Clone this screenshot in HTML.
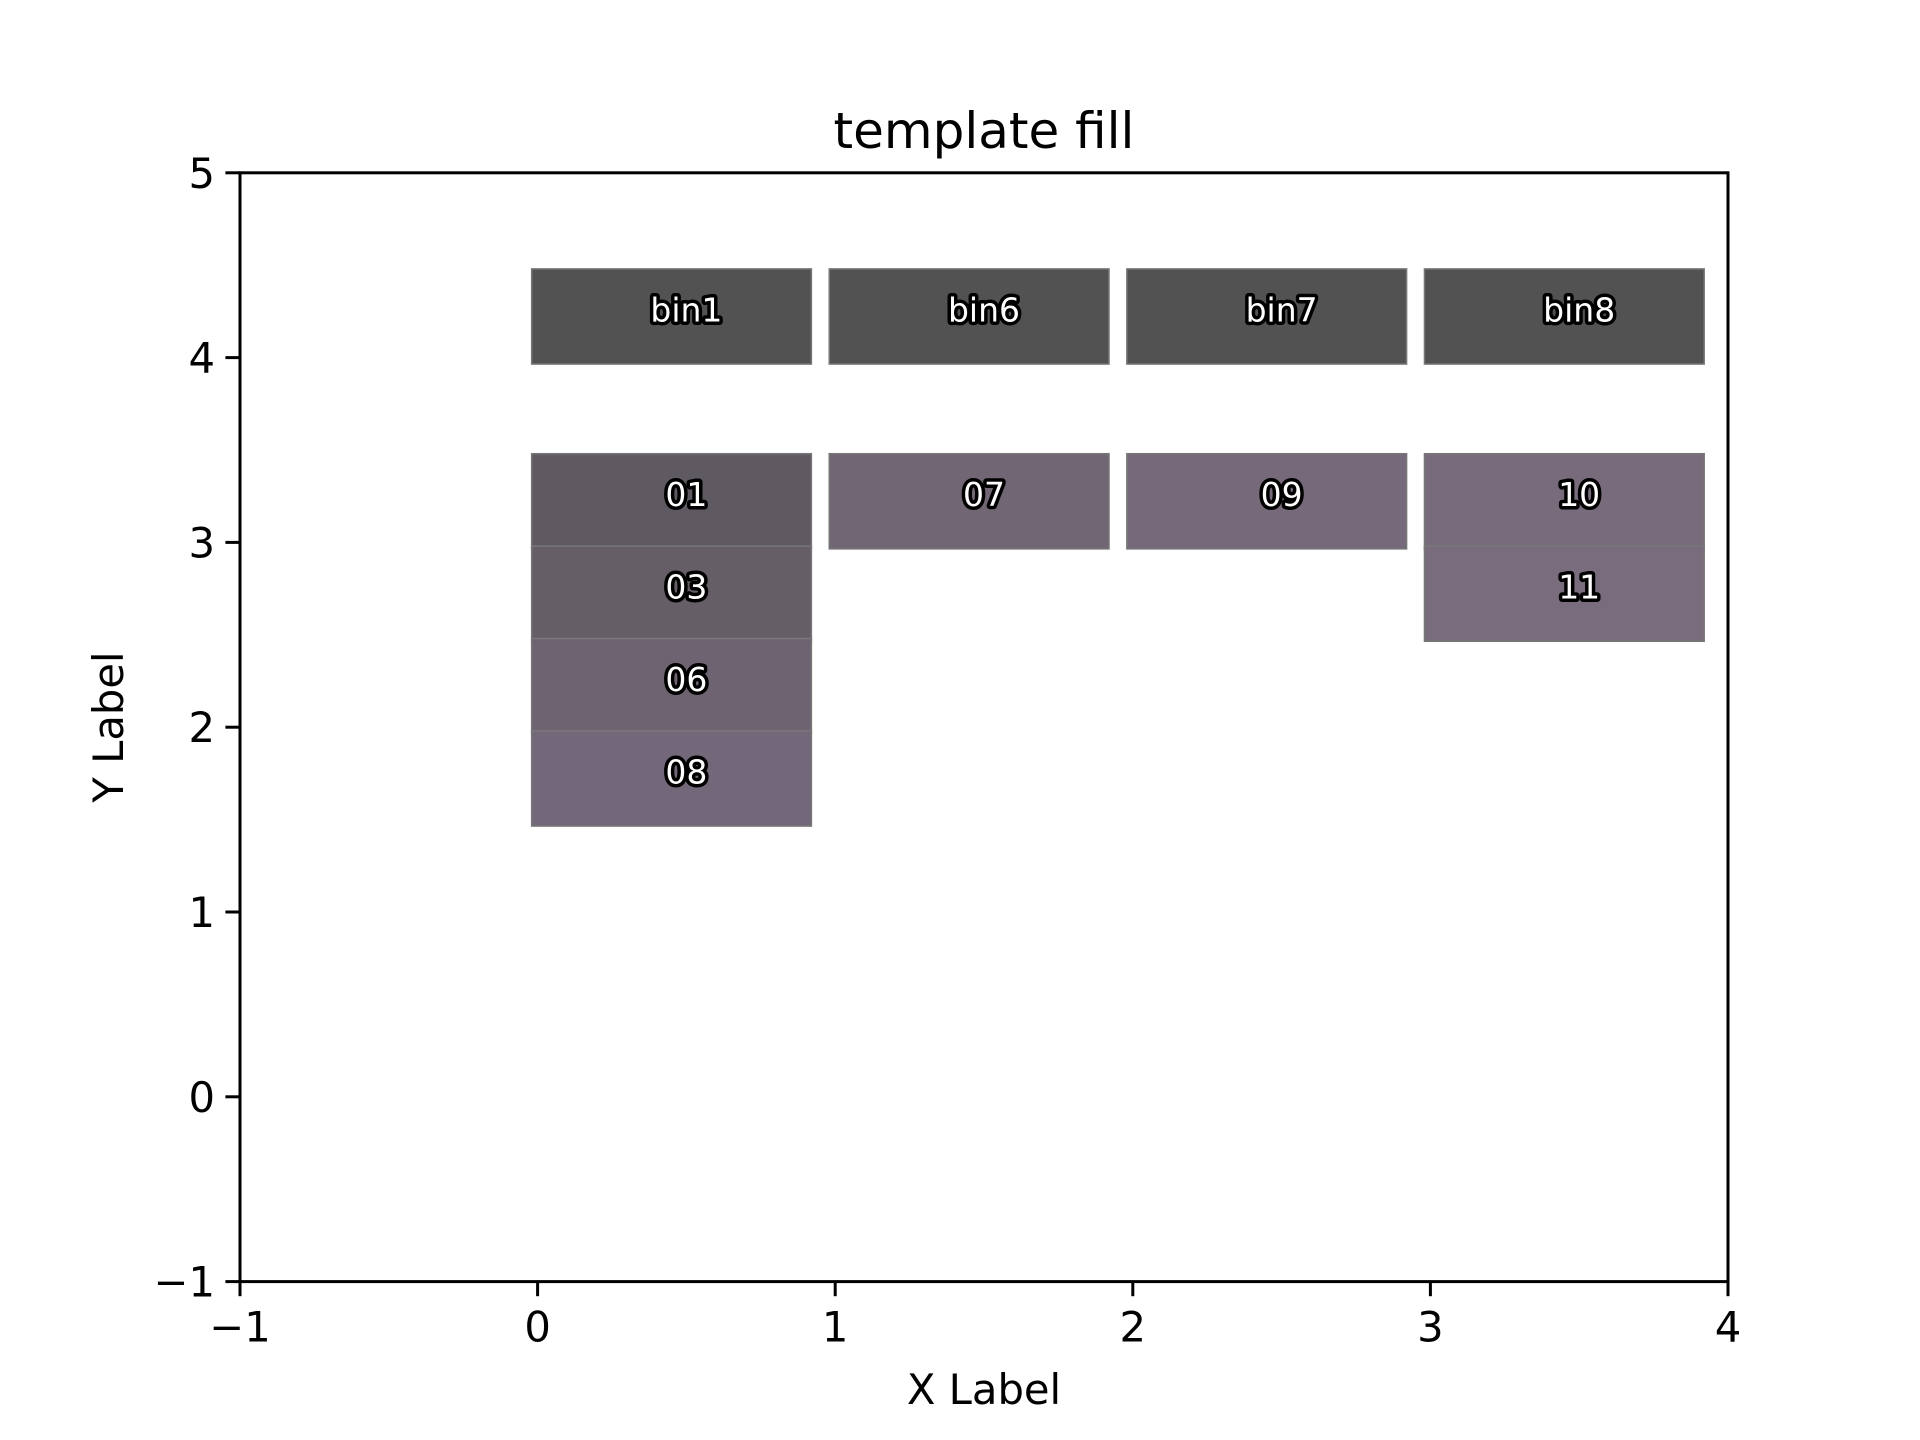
<!DOCTYPE html>
<html><head><meta charset="utf-8"><style>
body{margin:0;background:#fff}
svg{display:block}
text{font-family:"DejaVu Sans","Liberation Sans",sans-serif}
</style></head><body>
<svg id="chart" width="1920" height="1440" viewBox="0 0 1920 1440" xmlns="http://www.w3.org/2000/svg">
<rect width="1920" height="1440" fill="#fff"/>
<text x="984" y="148" font-size="50" text-anchor="middle" fill="#000">template fill</text>
<g id="bars"></g>
<g id="axes"></g>
<text x="984" y="1404" font-size="41.7" text-anchor="middle" fill="#000">X Label</text>
<text transform="translate(123,727) rotate(-90)" font-size="41.7" text-anchor="middle" fill="#000">Y Label</text>
</svg>
<script>
const labels=["bin1","bin6","bin7","bin8","01","03","06","08","07","09","10","11"];
const colIdx=[0,1,2,3,0,0,0,0,1,2,3,3];
const yBottom=[4,4,4,4,3,2.5,2,1.5,3,3,3,2.5];
const heights=[0.5,0.5,0.5,0.5,0.5,0.5,0.5,0.5,0.5,0.5,0.5,0.5];
const colors=["#525252","#525252","#525252","#525252","#5f5a62","#655e67","#6e6370","#73677a","#716673","#766a7a","#786c7c","#796d7d"];
const xTicks=[-1,0,1,2,3,4];
const yTicks=[-1,0,1,2,3,4,5];
const X0=240,X1=1728,Y0=1281.6,Y1=172.8;
const sx=v=>X0+(v+1)/5*(X1-X0);
const sy=v=>Y0-(v+1)/6*(Y0-Y1);
const NS="http://www.w3.org/2000/svg";
const bars=document.getElementById('bars'),axes=document.getElementById('axes');
function mk(tag,attrs,parent){const e=document.createElementNS(NS,tag);for(const k in attrs)e.setAttribute(k,attrs[k]);parent.appendChild(e);return e;}
labels.forEach((lab,i)=>{
  const x0=colIdx[i]-0.02,w=0.94;
  const yb=yBottom[i]-0.035, yt=yBottom[i]+heights[i]-0.02;
  const r=mk('rect',{x:sx(x0),y:sy(yt),width:sx(x0+w)-sx(x0),height:sy(yb)-sy(yt),fill:colors[i],stroke:"#777",'stroke-width':1.5},bars);
  
  
  const t=mk('text',{x:sx(colIdx[i]+0.5),y:sy(yBottom[i]+heights[i]*0.5)+10,'font-size':33,'text-anchor':'middle',fill:'#fff',stroke:'#000','stroke-width':7,'paint-order':'stroke','stroke-linejoin':'round'},bars);
  
  
  t.textContent=lab;
});
const frame=mk('rect',{x:X0,y:Y1,width:X1-X0,height:Y0-Y1,fill:'none',stroke:'#000','stroke-width':3},axes);


xTicks.forEach(v=>{
  mk('line',{x1:sx(v),x2:sx(v),y1:Y0,y2:Y0+14.6,stroke:'#000','stroke-width':3},axes);
  const t=mk('text',{x:sx(v),y:Y0+60,'font-size':41.7,'text-anchor':'middle',fill:'#000'},axes);
  
  
  t.textContent=v<0?'\u2212'+(-v):String(v);
});
yTicks.forEach(v=>{
  mk('line',{x1:X0-14.6,x2:X0,y1:sy(v),y2:sy(v),stroke:'#000','stroke-width':3},axes);
  const t=mk('text',{x:X0-25,y:sy(v)+15,'font-size':41.7,'text-anchor':'end',fill:'#000'},axes);
  
  
  t.textContent=v<0?'\u2212'+(-v):String(v);
});
</script>
</body></html>
